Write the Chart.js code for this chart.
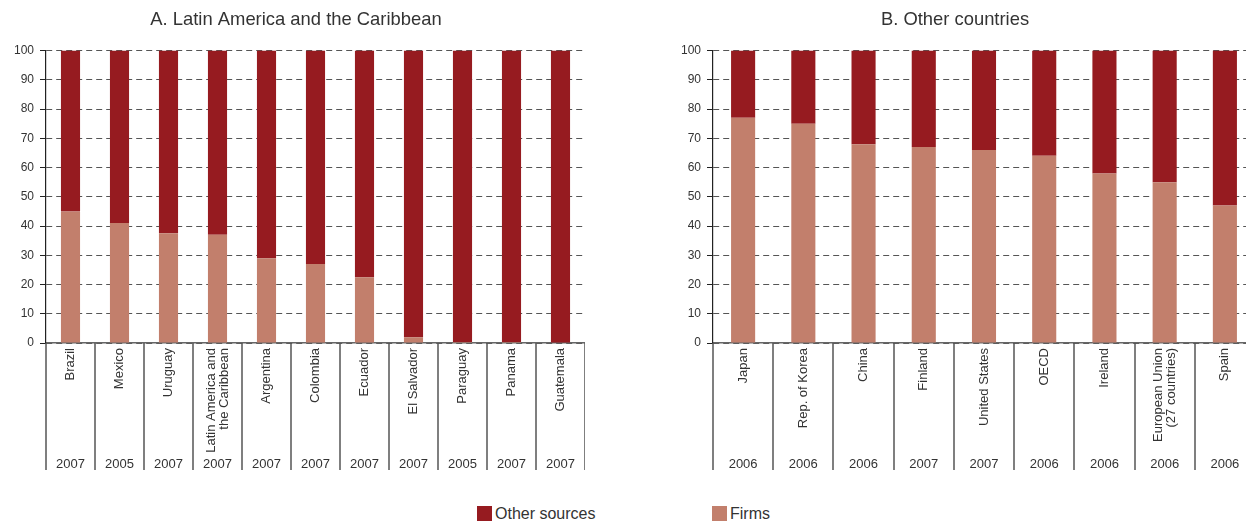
<!DOCTYPE html>
<html>
<head>
<meta charset="utf-8">
<script src="https://cdn.jsdelivr.net/npm/chart.js@4.4.1/dist/chart.umd.min.js"></script>
<style>
  html, body { margin: 0; padding: 0; background: #fff; overflow: hidden; width: 1246px; height: 521px; }
  body { position: relative; font-family: "Liberation Sans", Arial, sans-serif; }
  canvas { position: absolute; top: 0; }
  #chartA { left: 7px; }
  #chartB { left: 655px; }
  .legend { position: absolute; top: 505px; font-size: 16px; color: #333; line-height: 18px; }
  .legend span.box { display: inline-block; width: 15px; height: 15px; vertical-align: -2px; margin-right: 3px; }
</style>
</head>
<body>
<canvas id="chartA" width="578" height="480"></canvas>
<canvas id="chartB" width="600" height="480"></canvas>
<div class="legend" style="left:477px"><span class="box" style="background:#961b20"></span>Other sources</div>
<div class="legend" style="left:712px"><span class="box" style="background:#c27f6c"></span>Firms</div>
<script>
// Panel A - Latin America and the Caribbean
const countriesA = ['Brazil', 'Mexico', 'Uruguay', ['Latin America and', 'the Caribbean'], 'Argentina', 'Colombia', 'Ecuador', 'El Salvador', 'Paraguay', 'Panama', 'Guatemala'];
const yearsA = ['2007', '2005', '2007', '2007', '2007', '2007', '2007', '2007', '2005', '2007', '2007'];
const firmsA = [45, 41, 37.5, 37, 29, 27, 22.5, 2, 0.3, 0.3, 0];
const otherA = [55, 59, 62.5, 63, 71, 73, 77.5, 98, 99.7, 99.7, 100];

// Panel B - Other countries
const countriesB = ['Japan', 'Rep. of Korea', 'China', 'Finland', 'United States', 'OECD', 'Ireland', ['European Union', '(27 countries)'], 'Spain'];
const yearsB = ['2006', '2006', '2006', '2007', '2007', '2006', '2006', '2006', '2006'];
const firmsB = [77, 75, 68, 67, 66, 64, 58, 55, 47];
const otherB = [23, 25, 32, 33, 34, 36, 42, 45, 53];

const yTicks = [0, 10, 20, 30, 40, 50, 60, 70, 80, 90, 100];

const FONT = '"Liberation Sans", Arial, sans-serif';
const TXT = '#333333';
const RED = '#961b20';
const PINK = '#c27f6c';

// labels + years below the axis, with separators like a table
const tablePlugin = {
  id: 'tableAxis',
  afterDraw(chart, args, opts) {
    const ctx = chart.ctx;
    const xs = chart.scales.x;
    const bottom = chart.chartArea.bottom;
    const n = opts.labels.length;
    ctx.save();
    ctx.strokeStyle = '#555';
    ctx.lineWidth = 1.5;
    for (let i = 0; i <= n; i++) {
      const x = Math.round(xs.getPixelForValue(i - 0.5));
      ctx.beginPath();
      ctx.moveTo(x, bottom);
      ctx.lineTo(x, bottom + 127);
      ctx.stroke();
    }
    ctx.fillStyle = TXT;
    ctx.font = '13px ' + FONT;
    for (let i = 0; i < n; i++) {
      const cx = xs.getPixelForValue(i);
      let lines = opts.labels[i];
      if (!Array.isArray(lines)) lines = [lines];
      ctx.save();
      ctx.translate(cx, bottom + 5);
      ctx.rotate(-Math.PI / 2);
      ctx.textAlign = 'right';
      ctx.textBaseline = 'middle';
      lines.forEach((ln, k) => {
        const off = (k - (lines.length - 1) / 2) * 13;
        ctx.fillText(ln, 0, off);
      });
      ctx.restore();
      ctx.textAlign = 'center';
      ctx.textBaseline = 'middle';
      ctx.fillText(opts.years[i], cx, bottom + 121);
    }
    ctx.restore();
  }
};

function makeChart(id, title, labels, years, firms, other, axisWidth, barPct) {
  const ctx = document.getElementById(id).getContext('2d');
  return new Chart(ctx, {
    type: 'bar',
    data: {
      labels: labels.map(l => Array.isArray(l) ? l.join(' ') : l),
      datasets: [
        { label: 'Firms', data: firms, backgroundColor: PINK, barPercentage: barPct, categoryPercentage: 1 },
        { label: 'Other sources', data: other, backgroundColor: RED, barPercentage: barPct, categoryPercentage: 1 }
      ]
    },
    plugins: [tablePlugin],
    options: {
      responsive: false,
      animation: false,
      devicePixelRatio: 1,
      layout: { padding: { left: 0, right: 0, top: 0, bottom: 129 } },
      plugins: {
        legend: { display: false },
        tooltip: { enabled: false },
        title: {
          display: true,
          text: title,
          color: TXT,
          font: { family: FONT, size: 18.4, weight: 'normal' },
          padding: { top: 9, bottom: 19.5 }
        },
        tableAxis: { labels: labels, years: years }
      },
      scales: {
        x: {
          stacked: true,
          grid: { display: false },
          ticks: { display: false },
          border: { display: true, color: '#666', width: 1.5 }
        },
        y: {
          stacked: true,
          min: 0,
          max: 100,
          afterBuildTicks: s => { s.ticks = yTicks.map(v => ({ value: v })); },
          afterFit: s => { s.width = axisWidth; },
          ticks: { color: TXT, font: { family: FONT, size: 12 }, padding: 6 },
          grid: { color: '#555', lineWidth: 1, tickLength: 6, tickColor: '#222', tickBorderDash: [] },
          border: { display: true, color: '#222', width: 1.2, dash: [6, 4] }
        }
      }
    }
  });
}

makeChart('chartA', 'A. Latin America and the Caribbean', countriesA, yearsA, firmsA, otherA, 39, 0.39);
makeChart('chartB', 'B. Other countries', countriesB, yearsB, firmsB, otherB, 58, 0.40);
</script>
</body>
</html>
